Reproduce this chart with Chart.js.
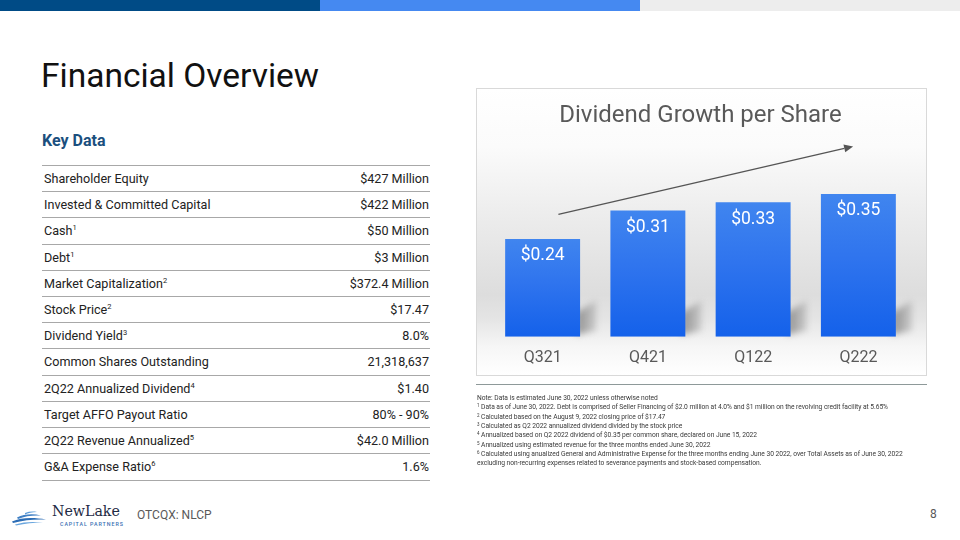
<!DOCTYPE html>
<html>
<head>
<meta charset="utf-8">
<script src="https://cdn.jsdelivr.net/npm/chart.js@4.4.0/dist/chart.umd.min.js"></script>
<style>
  html, body { margin:0; padding:0; background:#fff; }
  body { width:960px; height:540px; position:relative; overflow:hidden; font-family: Roboto, "Noto Sans", sans-serif; }
  .bar { position:absolute; top:0; height:11px; }
  #title { position:absolute; left:41px; top:56px; font-size:33.5px; color:#111; font-weight:400; white-space:nowrap; }
  #keydata { position:absolute; left:42px; top:131px; font-size:16px; font-weight:700; color:#1b4f7e; }
  #table { position:absolute; left:42px; top:165px; width:388px; }
  .row { height:26.2px; box-sizing:border-box; border-top:1.5px solid #a8a8a8; display:flex; justify-content:space-between; align-items:center; font-size:12.6px; color:#222; padding:0 1px 0 2px; }
  .row:last-child { border-bottom:1.5px solid #a8a8a8; height:27.7px; }
  .row sup { font-size:7.5px; vertical-align:5px; line-height:0; }
  #box { position:absolute; left:476px; top:88px; width:449px; height:286px; border:1px solid #d9d9d9;
         background:linear-gradient(to bottom, #ffffff 0%, #fbfbfb 20%, #ececec 45%, #dddddd 72%, #e4e4e4 80%, #f6f6f6 90%, #ffffff 100%); }
  #chart { position:absolute; left:476px; top:88px; }
  #sep { position:absolute; left:476px; top:383.5px; width:451px; height:1.5px; background:#8e9999; }
  #notes { position:absolute; left:477px; top:394px; font-size:6.7px; line-height:9.35px; color:#3a3a3a; white-space:nowrap; letter-spacing:-0.05px; }
  #notes sup { font-size:4.5px; vertical-align:2px; line-height:0; }
  #ticker { position:absolute; left:137px; top:508px; font-size:12px; color:#595959; }
  #page { position:absolute; left:930px; top:507px; font-size:12px; color:#595959; }
  #nl { position:absolute; left:52px; top:503px; font-family:"DejaVu Serif", serif; font-size:14.2px; color:#1e2a44; }
  #cp { position:absolute; left:60px; top:521px; font-size:5.3px; letter-spacing:0.95px; color:#3a6fb3; font-weight:500; }
  #wave { position:absolute; left:11px; top:510px; }
</style>
</head>
<body>
<div class="bar" style="left:0;width:320px;background:#004b86"></div>
<div class="bar" style="left:320px;width:320px;background:#4589f1"></div>
<div class="bar" style="left:640px;width:320px;background:#ededed"></div>

<div id="title">Financial Overview</div>
<div id="keydata">Key Data</div>
<div id="table"></div>

<div id="box"></div>
<canvas id="chart" width="451" height="300"></canvas>
<div id="sep"></div>

<div id="notes">
Note: Data is estimated June 30, 2022 unless otherwise noted<br>
<sup>1</sup> Data as of June 30, 2022. Debt is comprised of Seller Financing of $2.0 million at 4.0% and $1 million on the revolving credit facility at 5.65%<br>
<sup>2</sup> Calculated based on the August 9, 2022 closing price of $17.47<br>
<sup>3</sup> Calculated as Q2 2022 annualized dividend divided by the stock price<br>
<sup>4</sup> Annualized based on Q2 2022 dividend of $0.35 per common share, declared on June 15, 2022<br>
<sup>5</sup> Annualized using estimated revenue for the three months ended June 30, 2022<br>
<sup>6</sup> Calculated using anualized General and Administrative Expense for the three months ending June 30 2022, over Total Assets as of June 30, 2022<br>
excluding non-recurring expenses related to severance payments and stock-based compensation.
</div>

<svg id="wave" width="36" height="16" viewBox="0 0 36 16">
  <path d="M14 3 C18 1.5 22 1.2 26 2 C21 2 17 3 14 4.5 Z" fill="#5b9bd8"/>
  <path d="M6 7.5 C13 4 22 3.5 30 5.5 C22 5 14 6 7 9 Z" fill="#3f7fc4"/>
  <path d="M1 11.5 C10 7.5 22 7 35 9.5 C24 9 13 10 2 13 Z" fill="#2c6db5"/>
  <path d="M4 14.5 C13 11.5 23 11.5 32 12.5 C23 12.5 14 13.5 5 15.5 Z" fill="#6aa6de"/>
</svg>
<div id="nl">NewLake</div>
<div id="cp">CAPITAL PARTNERS</div>
<div id="ticker">OTCQX: NLCP</div>
<div id="page">8</div>

<script>
// ---- Data ----
const categories = ["Q321", "Q421", "Q122", "Q222"];
const dividends = [0.24, 0.31, 0.33, 0.35];
const chartTitle = "Dividend Growth per Share";
// arrow annotation in data units: [category index, value]
const arrowStart = [0.15, 0.30];
const arrowEnd = [2.95, 0.467];

const tableLabels = ["Shareholder Equity", "Invested & Committed Capital", "Cash", "Debt",
  "Market Capitalization", "Stock Price", "Dividend Yield", "Common Shares Outstanding",
  "2Q22 Annualized Dividend", "Target AFFO Payout Ratio", "2Q22 Revenue Annualized", "G&A Expense Ratio"];
const tableNotes = ["", "", "1", "1", "2", "2", "3", "", "4", "", "5", "6"];
const tableValues = ["$427 Million", "$422 Million", "$50 Million", "$3 Million", "$372.4 Million",
  "$17.47", "8.0%", "21,318,637", "$1.40", "80% - 90%", "$42.0 Million", "1.6%"];

// ---- Table ----
const tbl = document.getElementById('table');
tableLabels.forEach((lab, i) => {
  const r = document.createElement('div');
  r.className = 'row';
  const a = document.createElement('span');
  a.textContent = lab;
  if (tableNotes[i]) { const s = document.createElement('sup'); s.textContent = tableNotes[i]; a.appendChild(s); }
  const b = document.createElement('span');
  b.textContent = tableValues[i];
  r.appendChild(a); r.appendChild(b);
  tbl.appendChild(r);
});

// ---- Chart ----
function barGradient(context) {
  const chart = context.chart;
  const area = chart.chartArea;
  if (!area || context.dataIndex === undefined) return '#2a6fec';
  const y = chart.scales.y;
  const top = y.getPixelForValue(context.raw);
  const g = chart.ctx.createLinearGradient(0, top, 0, area.bottom);
  g.addColorStop(0, '#4085ef');
  g.addColorStop(0.45, '#2f74ee');
  g.addColorStop(1, '#1461ea');
  return g;
}

const shadowPlugin = {
  id: 'shadow',
  beforeDatasetsDraw(chart) {
    const ctx = chart.ctx;
    const meta = chart.getDatasetMeta(0);
    ctx.save();
    ctx.filter = 'blur(3px)';
    meta.data.forEach(bar => {
      const right = bar.x + bar.width / 2;
      const bottom = bar.base;
      const g = ctx.createLinearGradient(right, 0, right + 18, 0);
      g.addColorStop(0, 'rgba(120,120,120,0.7)');
      g.addColorStop(1, 'rgba(150,150,150,0.3)');
      ctx.fillStyle = g;
      ctx.beginPath();
      ctx.moveTo(right - 4, bottom - 2);
      ctx.lineTo(right - 4, bottom - 24);
      ctx.lineTo(right + 16, bottom - 36);
      ctx.lineTo(right + 16, bottom - 6);
      ctx.closePath();
      ctx.fill();
    });
    ctx.restore();
  }
};

const labelPlugin = {
  id: 'labels',
  afterDatasetsDraw(chart) {
    const ctx = chart.ctx;
    const meta = chart.getDatasetMeta(0);
    ctx.save();
    ctx.fillStyle = '#ffffff';
    ctx.font = '17.5px Roboto';
    ctx.textAlign = 'center';
    ctx.textBaseline = 'middle';
    meta.data.forEach((bar, i) => {
      ctx.fillText('$' + dividends[i].toFixed(2), bar.x, bar.y + 17);
    });
    // arrow
    const xs = chart.scales.x, ys = chart.scales.y;
    const x1 = xs.getPixelForValue(arrowStart[0]), y1 = ys.getPixelForValue(arrowStart[1]);
    const x2 = xs.getPixelForValue(arrowEnd[0]), y2 = ys.getPixelForValue(arrowEnd[1]);
    const ang = Math.atan2(y2 - y1, x2 - x1);
    const hl = 9, hw = 4;
    const bx = x2 - hl * Math.cos(ang), by = y2 - hl * Math.sin(ang);
    ctx.strokeStyle = '#555555';
    ctx.fillStyle = '#555555';
    ctx.lineWidth = 1.3;
    ctx.beginPath();
    ctx.moveTo(x1, y1);
    ctx.lineTo(bx, by);
    ctx.stroke();
    ctx.beginPath();
    ctx.moveTo(x2, y2);
    ctx.lineTo(bx + hw * Math.sin(ang), by - hw * Math.cos(ang));
    ctx.lineTo(bx - hw * Math.sin(ang), by + hw * Math.cos(ang));
    ctx.closePath();
    ctx.fill();
    ctx.restore();
  }
};

new Chart(document.getElementById('chart'), {
  type: 'bar',
  data: {
    labels: categories,
    datasets: [{
      data: dividends,
      backgroundColor: barGradient,
      borderWidth: 0,
      barPercentage: 0.712,
      categoryPercentage: 1.0
    }]
  },
  options: {
    responsive: false,
    animation: false,
    devicePixelRatio: 1,
    layout: { padding: { left: 14, right: 16, top: 0, bottom: 9.3 } },
    plugins: {
      legend: { display: false },
      tooltip: { enabled: false },
      title: {
        display: true,
        text: chartTitle,
        color: '#595959',
        font: { family: 'Roboto', size: 24, weight: '400' },
        padding: { top: 13.4, bottom: 2.8 }
      }
    },
    scales: {
      x: {
        grid: { display: false, drawTicks: false },
        border: { display: false },
        ticks: { color: '#595959', font: { family: 'Roboto', size: 16 }, padding: 11.4 }
      },
      y: { display: false, min: 0, max: 0.5 }
    }
  },
  plugins: [shadowPlugin, labelPlugin]
});
</script>
</body>
</html>
